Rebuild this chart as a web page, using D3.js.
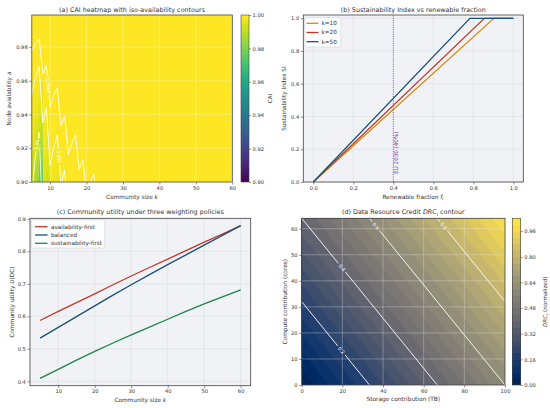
<!DOCTYPE html>
<html><head><meta charset="utf-8">
<script src="https://cdn.jsdelivr.net/npm/d3@7"></script>
<style>body{margin:0;background:#fff}svg text{font-family:"DejaVu Sans",sans-serif}</style>
</head><body><svg id="c" width="550" height="408" xmlns="http://www.w3.org/2000/svg"></svg>
<script>
// ================= DATA =================
// (a) CAI heatmap: "nines" of availability, -log10(1-CAI), read per community size k (columns) and node availability a (rows)
const caiK = [5,6,7,8,9,10,11,12,13,14,15,16,17,18,19,20,21,22,23,24,25,26,27,28,29,30];
const caiA = [0.90,0.91,0.92,0.93,0.94,0.95,0.96,0.97,0.98,0.99];
const caiNines = [
 [2.07,1.80,1.59,2.30,2.08,2.79,2.56,2.36,3.04,2.83,3.51,3.30,3.11,3.76,3.56,4.22,4.02,3.83,4.48,4.28,4.93,4.74,4.55,5.18,4.99,5.63],
 [2.20,1.93,1.71,2.47,2.24,3.00,2.77,2.57,3.28,3.07,3.80,3.58,3.39,4.09,3.88,4.59,4.38,4.19,4.88,4.68,5.38,5.17,4.98,5.67,5.47,6.00],
 [2.34,2.07,1.85,2.66,2.43,3.23,3.00,2.79,3.56,3.35,4.12,3.90,3.70,4.45,4.25,5.00,4.79,4.60,5.34,5.13,5.88,5.67,5.48,6.00,6.00,6.00],
 [2.51,2.23,2.01,2.87,2.64,3.50,3.27,3.06,3.88,3.67,4.50,4.27,4.07,4.88,4.67,5.48,5.26,5.06,5.86,5.66,6.00,6.00,6.00,6.00,6.00,6.00],
 [2.71,2.42,2.20,3.13,2.89,3.82,3.58,3.37,4.26,4.04,4.93,4.70,4.50,5.37,5.16,6.00,5.82,5.61,6.00,6.00,6.00,6.00,6.00,6.00,6.00,6.00],
 [2.94,2.65,2.43,3.43,3.19,4.20,3.95,3.74,4.70,4.48,5.45,5.22,5.01,5.96,5.75,6.00,6.00,6.00,6.00,6.00,6.00,6.00,6.00,6.00,6.00,6.00],
 [3.22,2.93,2.70,3.80,3.56,4.66,4.41,4.19,5.26,5.03,6.00,5.87,5.65,6.00,6.00,6.00,6.00,6.00,6.00,6.00,6.00,6.00,6.00,6.00,6.00,6.00],
 [3.59,3.30,3.06,4.29,4.04,5.27,5.02,4.79,5.98,5.75,6.00,6.00,6.00,6.00,6.00,6.00,6.00,6.00,6.00,6.00,6.00,6.00,6.00,6.00,6.00,6.00],
 [4.11,3.82,3.58,4.98,4.73,6.00,5.87,5.65,6.00,6.00,6.00,6.00,6.00,6.00,6.00,6.00,6.00,6.00,6.00,6.00,6.00,6.00,6.00,6.00,6.00,6.00],
 [5.01,4.71,4.47,6.00,5.92,6.00,6.00,6.00,6.00,6.00,6.00,6.00,6.00,6.00,6.00,6.00,6.00,6.00,6.00,6.00,6.00,6.00,6.00,6.00,6.00,6.00]
];
const caiSaturatedNines = 6;            // k beyond the table: CAI ~ 1
const caiContourNines = [2,3,4];        // iso-availability 0.99 / 0.999 / 0.9999
const caiLabels = [
 {nines:2, k0:6,  a:0.922, text:"0.99"},
 {nines:4, k0:9,  a:0.957, text:"0.9999"},
 {nines:3, k0:12, a:0.915, text:"0.999"}
];
const caiXTicks = [10,20,30,40,50,60];
const caiYTicks = [0.90,0.92,0.94,0.96,0.98];
const caiBarTicks = [0.90,0.92,0.94,0.96,0.98,1.00];

// (b) Sustainability index vs renewable fraction
const siSeries = ["k=10","k=20","k=50"];
const siFrac  = [[0,0.903,1.0],[0,0.855,1.0],[0,0.783,1.0]];
const siValue = [[0,1,1],[0,1,1],[0,1,1]];
const euTarget = 0.4;
const siXTicks = [0,0.2,0.4,0.6,0.8,1.0];
const siYTicks = [0,0.2,0.4,0.6,0.8,1.0];

// (c) Community utility
const utilK = [5,10,15,20,25,30,35,40,45,50,55,60];
const utilPolicies = ["availability-first","balanced","sustainability-first"];
const utilAvailability  = [0.587,0.615,0.642,0.669,0.697,0.724,0.750,0.776,0.802,0.828,0.853,0.879];
const utilBalanced      = [0.533,0.566,0.599,0.632,0.665,0.697,0.728,0.759,0.789,0.819,0.849,0.879];
const utilSustainability= [0.409,0.437,0.465,0.492,0.518,0.543,0.567,0.591,0.615,0.638,0.660,0.681];
const utilXTicks = [10,20,30,40,50,60];
const utilYTicks = [0.4,0.5,0.6,0.7,0.8,0.9];

// (d) Data Resource Credit
const storageTB = [0,20,40,60,80,100];
const computeCores = [0,16,32,48,64];
const drcGrid = [
 [0.00,0.12,0.24,0.36,0.48,0.60],
 [0.10,0.22,0.34,0.46,0.58,0.70],
 [0.20,0.32,0.44,0.56,0.68,0.80],
 [0.30,0.42,0.54,0.66,0.78,0.90],
 [0.40,0.52,0.64,0.76,0.88,1.00]
];
const drcFillStep = 0.04, drcFillMax = 1.04;
const drcLineLevels = [0.2,0.4,0.6,0.8];
const drcLabels = [{t:0.2,c:13.3},{t:0.4,c:45},{t:0.6,c:61},{t:0.8,c:61}];
const drcXTicks = [0,20,40,60,80,100];
const drcYTicks = [0,10,20,30,40,50,60];
const drcBarTicks = [0,0.16,0.32,0.48,0.64,0.80,0.96];

// ================= DRAWING =================
const svg = d3.select("#c");
const TXT = "#333", SPINE = "#444";
const TICKFS = 5.2, LABFS = 5.8, TITLEFS = 6.4, LEGFS = 5.7;
const defs = svg.append("defs");

function styleAxis(g, fs){
  g.select(".domain").remove();
  g.selectAll("text").attr("font-size",fs).attr("fill",TXT).attr("font-family",'"DejaVu Sans",sans-serif');
  g.selectAll("line").attr("stroke",SPINE).attr("stroke-width",0.6);
}
function axes(x, y, xt, yt, xf, yf){
  const gx = svg.append("g").attr("transform",`translate(0,${y.range()[0]})`)
    .call(d3.axisBottom(x).tickValues(xt).tickFormat(xf).tickSize(2.5).tickPadding(1.6));
  styleAxis(gx,TICKFS);
  const gy = svg.append("g").attr("transform",`translate(${x.range()[0]},0)`)
    .call(d3.axisLeft(y).tickValues(yt).tickFormat(yf).tickSize(2.5).tickPadding(1.6));
  styleAxis(gy,TICKFS);
}
function grid(x, y, xt, yt, color, op, w){
  const g = svg.append("g").attr("stroke",color).attr("stroke-opacity",op).attr("stroke-width",w);
  xt.forEach(v=>g.append("line").attr("x1",x(v)).attr("x2",x(v)).attr("y1",y.range()[0]).attr("y2",y.range()[1]));
  yt.forEach(v=>g.append("line").attr("y1",y(v)).attr("y2",y(v)).attr("x1",x.range()[0]).attr("x2",x.range()[1]));
}
function frame(x, y){
  svg.append("rect").attr("x",x.range()[0]).attr("y",y.range()[1])
    .attr("width",x.range()[1]-x.range()[0]).attr("height",y.range()[0]-y.range()[1])
    .attr("fill","none").attr("stroke",SPINE).attr("stroke-width",0.8);
}
function rich(parent, x, y, parts, fs, anchor, rot){
  const t = parent.append("text").attr("font-size",fs).attr("fill",TXT).attr("text-anchor",anchor||"middle");
  if(rot){ t.attr("transform",`translate(${x},${y}) rotate(${rot})`).attr("dy","0.35em"); }
  else { t.attr("x",x).attr("y",y); }
  parts.forEach(p=>{
    if(typeof p === "string"){ t.append("tspan").text(p); }
    else {
      const s = t.append("tspan").text(p.t);
      if(p.it) s.attr("font-style","italic");
      if(p.sub) s.attr("font-size",fs*0.72).attr("dy",fs*0.25);
      if(p.after) s.attr("dy",-fs*0.25);
    }
  });
  return t;
}
function clipRect(id, x0,y0,x1,y1){
  defs.append("clipPath").attr("id",id).append("rect").attr("x",x0).attr("y",y0).attr("width",x1-x0).attr("height",y1-y0);
}

// ---------- (a) ----------
const xA = d3.scaleLinear([5,60],[31.8,232.3]);
const yA = d3.scaleLinear([0.90,0.999],[182,15]);
const colA = v => d3.interpolateViridis(Math.max(0,Math.min(1,(v-0.90)/0.10)));
const cai = n => 1 - Math.pow(10,-n);

function ninesCol(i, a){
  const r = caiA.length;
  if(a <= caiA[0]) return caiNines[0][i];
  if(a >= caiA[r-1]) return caiNines[r-1][i];
  const j = Math.min(r-2, d3.bisectRight(caiA,a)-1);
  const t = (a-caiA[j])/(caiA[j+1]-caiA[j]);
  return caiNines[j][i]*(1-t)+caiNines[j+1][i]*t;
}
function ninesAt(k, a){
  const fi = k-caiK[0];
  const i0 = Math.max(0,Math.min(caiK.length-2,Math.floor(fi)));
  const t = fi-i0;
  return ninesCol(i0,a)*(1-t)+ninesCol(i0+1,a)*t;
}

clipRect("clipA", xA.range()[0], yA.range()[1], xA.range()[1], yA.range()[0]);
const gA = svg.append("g").attr("clip-path","url(#clipA)");
gA.append("rect").attr("x",xA.range()[0]).attr("y",yA.range()[1]).attr("width",xA.range()[1]-xA.range()[0])
  .attr("height",yA.range()[0]-yA.range()[1]).attr("fill",colA(cai(caiSaturatedNines)));
const nColsTotal = 56, cw = (60-5)/nColsTotal;
const nRows = 100, rh = (0.999-0.90)/nRows;
const cells = gA.append("g").attr("shape-rendering","crispEdges");
caiK.forEach((k,i)=>{
  const k0 = 5+i*cw, k1 = 5+(i+1)*cw;
  for(let r=0;r<nRows;r++){
    const a0 = 0.90+r*rh, a1 = a0+rh, ac = a0+rh/2;
    cells.append("rect").attr("x",xA(k0)).attr("width",xA(k1)-xA(k0)+0.3)
      .attr("y",yA(a1)).attr("height",yA(a0)-yA(a1)+0.3)
      .attr("fill",colA(cai(ninesCol(i,ac))));
  }
});
grid(xA,yA,caiXTicks,caiYTicks,"#ffffff",0.45,0.6);

// contour lines
const flatA = []; caiNines.forEach(row=>row.forEach(v=>flatA.push(v)));
const contA = d3.contours().size([caiK.length, caiA.length]).thresholds(caiContourNines)(flatA);
const projA = d3.geoTransform({point(x,y){ this.stream.point(xA(caiK[0]+(x-0.5)), yA(caiA[0]+(y-0.5)*0.01)); }});
const pathA = d3.geoPath(projA);
clipRect("clipAc", xA(5), yA(0.99), xA(30), yA(0.90));
const labA = caiLabels.map(L=>{
  const kAt = a => { const n0 = ninesAt(L.k0,a), n1 = ninesAt(L.k0+1,a); return L.k0+(L.nines-n0)/(n1-n0); };
  const px = xA(kAt(L.a)), py = yA(L.a);
  const p1 = [xA(kAt(L.a-0.003)), yA(L.a-0.003)], p2 = [xA(kAt(L.a+0.003)), yA(L.a+0.003)];
  let ang = Math.atan2(p2[1]-p1[1], p2[0]-p1[0])*180/Math.PI;
  if(ang>90) ang-=180; if(ang<-90) ang+=180;
  return {x:px,y:py,ang,text:L.text};
});
const mA = defs.append("mask").attr("id","maskA").attr("maskUnits","userSpaceOnUse")
  .attr("x",0).attr("y",0).attr("width",550).attr("height",408);
mA.append("rect").attr("width",550).attr("height",408).attr("fill","white");
const fsLab = 4.4;
labA.forEach(l=>{
  const w = l.text.length*fsLab*0.62+2;
  mA.append("rect").attr("x",-w/2).attr("y",-fsLab*0.6).attr("width",w).attr("height",fsLab*1.2)
    .attr("fill","black").attr("transform",`translate(${l.x},${l.y}) rotate(${l.ang})`);
});
svg.append("g").attr("mask","url(#maskA)").append("g").attr("clip-path","url(#clipAc)")
  .selectAll("path").data(contA).join("path").attr("d",pathA)
  .attr("fill","none").attr("stroke","#ffffff").attr("stroke-width",0.9).attr("stroke-opacity",0.92)
  .attr("stroke-linejoin","round");
labA.forEach(l=>{
  svg.append("text").attr("transform",`translate(${l.x},${l.y}) rotate(${l.ang})`)
    .attr("text-anchor","middle").attr("dy","0.35em").attr("font-size",fsLab).attr("fill","#ffffff").text(l.text);
});
frame(xA,yA);
axes(xA,yA,caiXTicks,caiYTicks,d3.format("d"),d3.format(".2f"));
// colorbar (a)
const cbA = d3.scaleLinear([0.90,1.00],[182,15]);
const cbAg = svg.append("g").attr("shape-rendering","crispEdges");
for(let i=0;i<100;i++){
  const v0 = 0.90+i*0.001, v1 = v0+0.001;
  cbAg.append("rect").attr("x",241).attr("width",8).attr("y",cbA(v1)).attr("height",cbA(v0)-cbA(v1)+0.4).attr("fill",colA((v0+v1)/2));
}
svg.append("rect").attr("x",241).attr("y",15).attr("width",8).attr("height",167).attr("fill","none").attr("stroke",SPINE).attr("stroke-width",0.6);
const cbAax = svg.append("g").attr("transform","translate(249,0)")
  .call(d3.axisRight(cbA).tickValues(caiBarTicks).tickFormat(d3.format(".2f")).tickSize(2).tickPadding(1.5));
styleAxis(cbAax,TICKFS);
rich(svg,270,98.5,["CAI"],5.6,"middle",-90);
rich(svg,132,11.5,["(a) CAI heatmap with iso-availability contours"],TITLEFS);
rich(svg,132,198.5,["Community size ",{t:"k",it:true}],LABFS);
rich(svg,8.5,98.5,["Node availability ",{t:"a",it:true}],LABFS,"middle",-90);

// ---------- (b) ----------
const xB = d3.scaleLinear([-0.05,1.05],[303.3,523.3]);
const yB = d3.scaleLinear([0,1.02],[182,15]);
svg.append("rect").attr("x",303.3).attr("y",15).attr("width",220).attr("height",167).attr("fill","#f0f2f5");
grid(xB,yB,siXTicks,siYTicks,"#d6dade",1,0.5);
const colB = ["#d68910","#c0392b","#1a5276"];
const lineGen = d3.line();
siSeries.forEach((s,i)=>{
  svg.append("path").attr("d",lineGen(siFrac[i].map((f,j)=>[xB(f),yB(siValue[i][j])])))
    .attr("fill","none").attr("stroke",colB[i]).attr("stroke-width",1.3);
});
svg.append("line").attr("x1",xB(euTarget)).attr("x2",xB(euTarget)).attr("y1",182).attr("y2",15)
  .attr("stroke","#7d3c98").attr("stroke-width",0.9).attr("stroke-dasharray","0.9,1.4");
svg.append("text").attr("transform",`translate(${xB(euTarget)+4.4},${yB(0.05)}) rotate(-90)`)
  .attr("font-size",5.6).attr("fill","#7d3c98").text("EU 2030 (40%)");
frame(xB,yB);
axes(xB,yB,siXTicks,siYTicks,d3.format(".1f"),d3.format(".1f"));
// legend
svg.append("rect").attr("x",304.8).attr("y",17.5).attr("width",36).attr("height",29.5).attr("rx",1)
  .attr("fill","#ffffff").attr("fill-opacity",0.8).attr("stroke","#cccccc").attr("stroke-width",0.5);
siSeries.forEach((s,i)=>{
  const yy = 23.3+i*9.2;
  svg.append("line").attr("x1",306.5).attr("x2",318.5).attr("y1",yy).attr("y2",yy).attr("stroke",colB[i]).attr("stroke-width",1.3);
  svg.append("text").attr("x",321.5).attr("y",yy).attr("dy","0.35em").attr("font-size",LEGFS).attr("fill",TXT).text(s);
});
rich(svg,413.3,11.5,["(b) Sustainability Index vs renewable fraction"],TITLEFS);
rich(svg,413.3,198.5,["Renewable fraction ",{t:"f",it:true},{t:"r",it:true,sub:true}],LABFS);
rich(svg,283.8,98.5,["Sustainability Index SI"],LABFS,"middle",-90);

// ---------- (c) ----------
const xC = d3.scaleLinear([2.25,62.75],[30,250.7]);
const yC = d3.scaleLinear([0.3866,0.9014],[385.7,218.3]);
svg.append("rect").attr("x",30).attr("y",218.3).attr("width",220.7).attr("height",167.4).attr("fill","#f0f2f5");
grid(xC,yC,utilXTicks,utilYTicks,"#d6dade",1,0.5);
const colC = ["#c0392b","#1a5276","#1e8449"];
[utilAvailability,utilBalanced,utilSustainability].forEach((arr,i)=>{
  svg.append("path").attr("d",lineGen(utilK.map((k,j)=>[xC(k),yC(arr[j])])))
    .attr("fill","none").attr("stroke",colC[i]).attr("stroke-width",1.3);
});
frame(xC,yC);
axes(xC,yC,utilXTicks,utilYTicks,d3.format("d"),d3.format(".1f"));
svg.append("rect").attr("x",31.3).attr("y",219.8).attr("width",73.5).attr("height",28.2).attr("rx",1)
  .attr("fill","#ffffff").attr("fill-opacity",0.8).attr("stroke","#cccccc").attr("stroke-width",0.5);
utilPolicies.forEach((s,i)=>{
  const yy = 226.7+i*8.3;
  svg.append("line").attr("x1",35).attr("x2",47.5).attr("y1",yy).attr("y2",yy).attr("stroke",colC[i]).attr("stroke-width",1.3);
  svg.append("text").attr("x",51).attr("y",yy).attr("dy","0.35em").attr("font-size",LEGFS).attr("fill",TXT).text(s);
});
rich(svg,140.3,214,["(c) Community utility under three weighting policies"],TITLEFS);
rich(svg,140.3,401.5,["Community size ",{t:"k",it:true}],LABFS);
rich(svg,11.7,302,["Community utility ",{t:"U",it:true},"(DC)"],LABFS,"middle",-90);

// ---------- (d) ----------
const xD = d3.scaleLinear([0,100],[301.7,505]);
const yD = d3.scaleLinear([0,64],[385,218.3]);
const ds = storageTB[1]-storageTB[0], dc = computeCores[1]-computeCores[0];
const flatD = []; drcGrid.forEach(row=>row.forEach(v=>flatD.push(v)));
const nLev = Math.round(drcFillMax/drcFillStep);
const fillLevels = d3.range(0,nLev).map(i=>+(i*drcFillStep).toFixed(4));
const colD = v => d3.interpolateCividis(v/drcFillMax);
const projD = d3.geoTransform({point(x,y){ this.stream.point(xD(storageTB[0]+(x-0.5)*ds), yD(computeCores[0]+(y-0.5)*dc)); }});
const pathD = d3.geoPath(projD);
clipRect("clipD", xD.range()[0], yD.range()[1], xD.range()[1], yD.range()[0]);
const gD = svg.append("g").attr("clip-path","url(#clipD)");
const contD = d3.contours().size([storageTB.length, computeCores.length]).thresholds(fillLevels.map(v=>v-1e-9))(flatD);
contD.forEach((c,i)=>{
  gD.append("path").attr("d",pathD(c)).attr("fill",colD(fillLevels[i]+drcFillStep/2)).attr("stroke",colD(fillLevels[i]+drcFillStep/2)).attr("stroke-width",0.3);
});
grid(xD,yD,drcXTicks.slice(1,-1),drcYTicks.slice(1),"#e8e8e8",0.55,0.6);
function drcAt(s,c){
  const fx = (s-storageTB[0])/ds, fy = (c-computeCores[0])/dc;
  const i0 = Math.max(0,Math.min(storageTB.length-2,Math.floor(fx))), j0 = Math.max(0,Math.min(computeCores.length-2,Math.floor(fy)));
  const tx = fx-i0, ty = fy-j0;
  return drcGrid[j0][i0]*(1-tx)*(1-ty)+drcGrid[j0][i0+1]*tx*(1-ty)+drcGrid[j0+1][i0]*(1-tx)*ty+drcGrid[j0+1][i0+1]*tx*ty;
}
function sFor(t,c){ let lo=0,hi=100; for(let k=0;k<40;k++){ const m=(lo+hi)/2; if(drcAt(m,c)<t) lo=m; else hi=m; } return (lo+hi)/2; }
const labD = drcLabels.map(L=>{
  const p1=[xD(sFor(L.t,L.c+2)),yD(L.c+2)], p2=[xD(sFor(L.t,L.c-2)),yD(L.c-2)];
  let ang = Math.atan2(p2[1]-p1[1],p2[0]-p1[0])*180/Math.PI;
  if(ang>90) ang-=180; if(ang<-90) ang+=180;
  return {x:xD(sFor(L.t,L.c)), y:yD(L.c), ang, text:String(L.t)};
});
const mD = defs.append("mask").attr("id","maskD").attr("maskUnits","userSpaceOnUse")
  .attr("x",0).attr("y",0).attr("width",550).attr("height",408);
mD.append("rect").attr("width",550).attr("height",408).attr("fill","white");
labD.forEach(l=>{
  const w = l.text.length*4.8*0.62+2.5;
  mD.append("rect").attr("x",-w/2).attr("y",-3).attr("width",w).attr("height",6)
    .attr("fill","black").attr("transform",`translate(${l.x},${l.y}) rotate(${l.ang})`);
});
const contDL = d3.contours().size([storageTB.length, computeCores.length]).thresholds(drcLineLevels)(flatD);
svg.append("g").attr("mask","url(#maskD)").append("g").attr("clip-path","url(#clipD)")
  .selectAll("path").data(contDL).join("path").attr("d",pathD)
  .attr("fill","none").attr("stroke","#ffffff").attr("stroke-width",0.9);
labD.forEach(l=>{
  svg.append("text").attr("transform",`translate(${l.x},${l.y}) rotate(${l.ang})`)
    .attr("text-anchor","middle").attr("dy","0.35em").attr("font-size",4.8).attr("fill","#ffffff").text(l.text);
});
frame(xD,yD);
axes(xD,yD,drcXTicks,drcYTicks,d3.format("d"),d3.format("d"));
// colorbar (d)
const cbD = d3.scaleLinear([0,drcFillMax],[385,218.3]);
const cbDg = svg.append("g").attr("shape-rendering","crispEdges");
fillLevels.forEach(v=>{
  cbDg.append("rect").attr("x",512.3).attr("width",8.4).attr("y",cbD(v+drcFillStep)).attr("height",cbD(v)-cbD(v+drcFillStep)+0.4)
    .attr("fill",colD(v+drcFillStep/2));
});
svg.append("rect").attr("x",512.3).attr("y",218.3).attr("width",8.4).attr("height",166.7).attr("fill","none").attr("stroke",SPINE).attr("stroke-width",0.6);
const cbDax = svg.append("g").attr("transform","translate(520.7,0)")
  .call(d3.axisRight(cbD).tickValues(drcBarTicks).tickFormat(d3.format(".2f")).tickSize(2).tickPadding(1.5));
styleAxis(cbDax,TICKFS);
rich(svg,545.5,301.7,[{t:"DRC",it:true},{t:"i",it:true,sub:true},{t:" (normalized)",after:true}],5.6,"middle",-90);
rich(svg,403.3,214,["(d) Data Resource Credit ",{t:"DRC",it:true},{t:"i",it:true,sub:true},{t:" contour",after:true}],TITLEFS);
rich(svg,403.3,401,["Storage contribution (TB)"],LABFS);
rich(svg,285.3,301.7,["Compute contribution (cores)"],LABFS,"middle",-90);
</script></body></html>
